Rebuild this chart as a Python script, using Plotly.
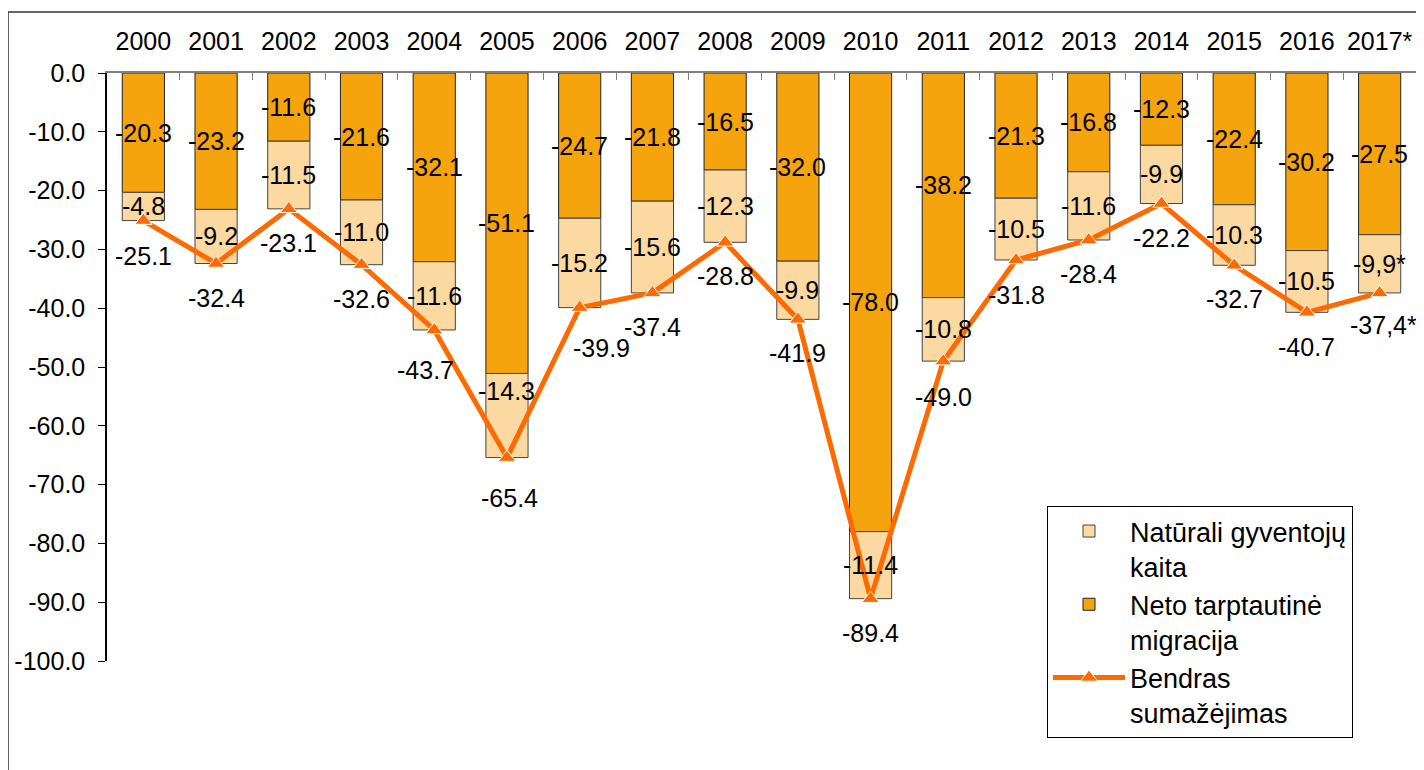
import plotly.graph_objects as go

years = ["2000", "2001", "2002", "2003", "2004", "2005", "2006", "2007", "2008",
         "2009", "2010", "2011", "2012", "2013", "2014", "2015", "2016", "2017*"]
migration = [-20.3, -23.2, -11.6, -21.6, -32.1, -51.1, -24.7, -21.8, -16.5,
             -32.0, -78.0, -38.2, -21.3, -16.8, -12.3, -22.4, -30.2, -27.5]
natural = [-4.8, -9.2, -11.5, -11.0, -11.6, -14.3, -15.2, -15.6, -12.3,
           -9.9, -11.4, -10.8, -10.5, -11.6, -9.9, -10.3, -10.5, -9.9]
total = [-25.1, -32.4, -23.1, -32.6, -43.7, -65.4, -39.9, -37.4, -28.8,
         -41.9, -89.4, -49.0, -31.8, -28.4, -22.2, -32.7, -40.7, -37.4]
provisional = [False] * 17 + [True]
yticks = [0, -10, -20, -30, -40, -50, -60, -70, -80, -90, -100]

# label placement tweaks (pixels)
nat_label_dy = [0, 0, 0, 0, 0, 25, 0, 0, 0, 0, 0, 0, 0, 0, 0, 0, 0, 0]
tot_label_dy = [-35, -34, -34, -34, -40, -40, -40, -34, -34, -34, -34, -36, -35, -34, -34, -34, -35, -32]
tot_label_dx = [0, 0, 0, 0, -9, 3, 22, 0, 0, 0, 0, 0, 0, 0, 0, 0, 0, 4]

FONT = "Liberation Sans, Arial, sans-serif"
FS = 25
FS_LEG = 27
C_MIG = "#F6A40D"
C_NAT = "#FCD9A0"
C_LINE = "#FF6A00"


def fmt(v, prov):
    s = f"{v:.1f}"
    if prov:
        s = s.replace(".", ",") + "*"
    return s


fig = go.Figure()
fig.add_trace(go.Bar(
    x=years, y=migration, name="Neto tarptautinė<br>migracija",
    marker=dict(color=C_MIG, line=dict(color="#222222", width=1)),
    width=0.58, legendrank=2,
))
fig.add_trace(go.Bar(
    x=years, y=natural, name="Natūrali gyventojų<br>kaita",
    marker=dict(color=C_NAT, line=dict(color="#444444", width=1)),
    width=0.58, legendrank=1,
))
fig.add_trace(go.Scatter(
    x=years, y=total, name="Bendras<br>sumažėjimas", mode="lines+markers",
    line=dict(color=C_LINE, width=5),
    marker=dict(symbol="triangle-up", size=15, color=C_LINE,
                line=dict(color="white", width=1)),
    cliponaxis=False, legendrank=3,
))

ann = []
for i, yr in enumerate(years):
    ann.append(dict(x=i, y=migration[i] / 2, text=fmt(migration[i], False),
                    showarrow=False, xref="x", yref="y"))
    ann.append(dict(x=i, y=migration[i] + natural[i] / 2,
                    text=fmt(natural[i], provisional[i]),
                    showarrow=False, xref="x", yref="y", yshift=nat_label_dy[i]))
    ann.append(dict(x=i, y=total[i], text=fmt(total[i], provisional[i]),
                    showarrow=False, xref="x", yref="y",
                    yshift=tot_label_dy[i], xshift=tot_label_dx[i]))
for a in ann:
    a["font"] = dict(family=FONT, size=FS, color="black")

# page has an 8px body margin; figure coordinates = page coordinates - 8
OFF = 8
W, H = 1424 - OFF, 770 - OFF
L, T = 107 - OFF, 73 - OFF
R = W - (1416 - OFF)
B = H - (661 - OFF)
pw, ph = W - L - R, H - T - B


def px(xp):
    return (xp - OFF - L) / pw


def py(yp):
    return (H - B - (yp - OFF)) / ph


shapes = [
    dict(type="line", xref="paper", yref="paper", x0=px(8), x1=px(1440),
         y0=py(12), y1=py(12), line=dict(color="#333333", width=1.5)),
    dict(type="line", xref="paper", yref="paper", x0=px(8), x1=px(8),
         y0=py(12), y1=py(790), line=dict(color="#333333", width=1.5)),
]

fig.update_layout(
    width=W, height=H,
    margin=dict(l=L, r=R, t=T, b=B, pad=0, autoexpand=False),
    barmode="relative",
    plot_bgcolor="white", paper_bgcolor="white",
    font=dict(family=FONT, size=FS, color="black"),
    annotations=ann, shapes=shapes,
    legend=dict(x=px(1047), y=py(506), xanchor="left", yanchor="top",
                bordercolor="black", borderwidth=1, bgcolor="white",
                font=dict(family=FONT, size=FS_LEG, color="black"),
                itemwidth=72, valign="top", tracegroupgap=0,
                traceorder="normal"),
)
fig.update_xaxes(
    type="category", side="top", showline=True, linecolor="#808080", linewidth=1.5,
    range=[-0.5, len(years) - 0.5], autorange=False, automargin=False, tickangle=0,
    ticks="inside", tickson="boundaries", ticklen=7, tickcolor="#808080",
    tickfont=dict(family=FONT, size=FS, color="black"), showgrid=False,
    ticklabelstandoff=11,
)
fig.update_yaxes(
    range=[-100, 0], autorange=False, automargin=False,
    tickvals=yticks, ticktext=[f"{v:.1f}" for v in yticks],
    showline=True, linecolor="black", linewidth=1.5, ticks="outside", ticklen=7,
    tickcolor="black", showgrid=False, zeroline=False,
    tickfont=dict(family=FONT, size=FS, color="black"), ticklabelstandoff=8,
)

fig.write_html("out.html")
